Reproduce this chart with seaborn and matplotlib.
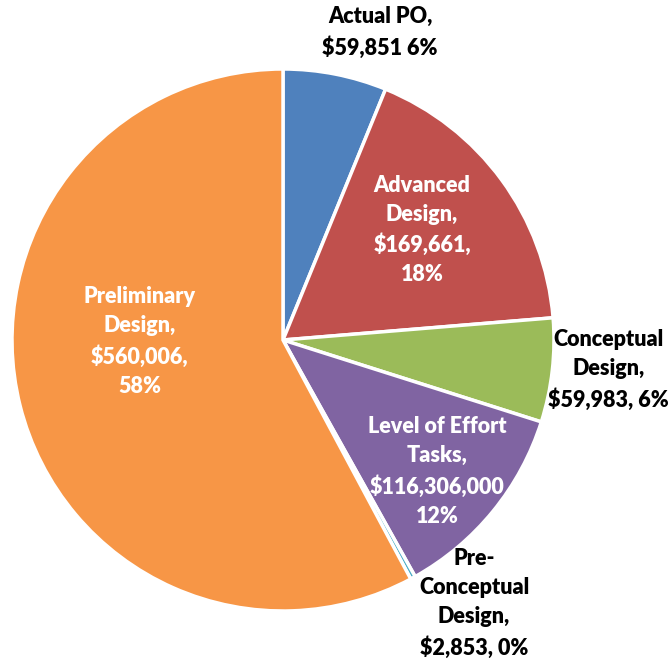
import matplotlib
matplotlib.use("Agg")
import matplotlib.pyplot as plt
import seaborn as sns

sns.set_theme(style="white")
plt.rcParams['font.family'] = ['Lato', 'DejaVu Sans']

categories = ["Actual PO", "Advanced Design", "Conceptual Design",
              "Level of Effort Tasks", "Pre-Conceptual Design", "Preliminary Design"]
values = [59851, 169661, 59983, 116306, 2853, 560006]
label_texts = [
    "Actual PO,\n$59,851 6%",
    "Advanced\nDesign,\n$169,661,\n18%",
    "Conceptual\nDesign,\n$59,983, 6%",
    "Level of Effort\nTasks,\n$116,306,000\n12%",
    "Pre-\nConceptual\nDesign,\n$2,853, 0%",
    "Preliminary\nDesign,\n$560,006,\n58%",
]
colors = ["#4F81BD", "#C0504D", "#9BBB59", "#8064A2", "#4BACC6", "#F79646"]
label_colors = ["black", "white", "black", "white", "black", "white"]
label_pos = [(0.358, 1.135), (0.513, 0.406), (1.20, -0.111),
             (0.568, -0.485), (0.705, -0.972), (-0.528, -0.005)]

W, H = 671, 662
fig = plt.figure(figsize=(W / 100, H / 100), dpi=100)
cx, cy, r = 283, 340, 271
ax = fig.add_axes([(cx - r) / W, (H - cy - r) / H, 2 * r / W, 2 * r / H])
ax.pie(values, colors=colors, startangle=90, counterclock=False,
       wedgeprops=dict(edgecolor="white", linewidth=2.5))
ax.set_xlim(-1, 1)
ax.set_ylim(-1, 1)
ax.set_aspect("equal")
ax.axis("off")

for txt, col, (x, y) in zip(label_texts, label_colors, label_pos):
    ax.text(x, y, txt, color=col, ha="center", va="center", fontsize=15.5,
            fontweight="heavy", linespacing=1.48, clip_on=False)

fig.savefig("out.png", dpi=100, facecolor="white")
